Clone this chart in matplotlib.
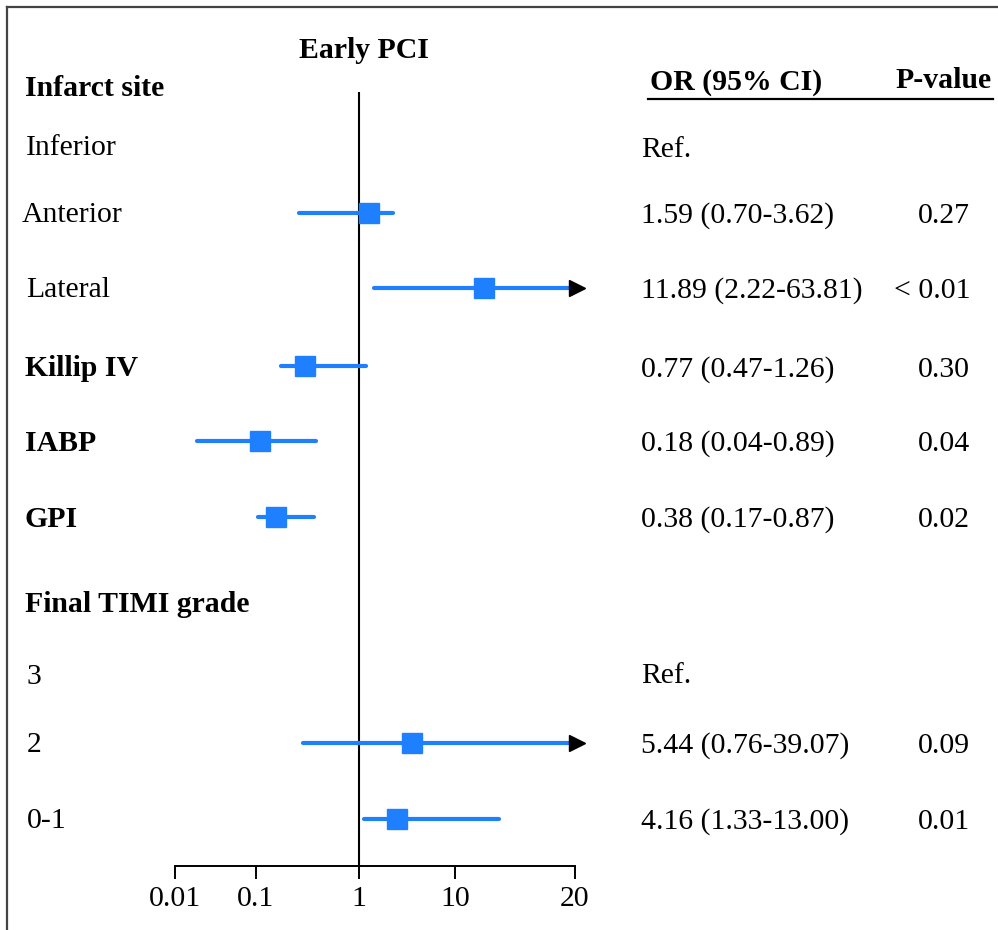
import numpy as np
import matplotlib
matplotlib.use("Agg")
import matplotlib.pyplot as plt
from matplotlib.lines import Line2D
from matplotlib.transforms import ScaledTranslation

# ---------------- data ----------------
row_labels = ["Infarct site", "Inferior", "Anterior", "Lateral", "Killip IV", "IABP", "GPI",
              "Final TIMI grade", "3", "2", "0-1"]
row_bold = [True, False, False, False, True, True, True, True, False, False, False]
or_text = ["", "Ref.", "1.59 (0.70-3.62)", "11.89 (2.22-63.81)", "0.77 (0.47-1.26)",
           "0.18 (0.04-0.89)", "0.38 (0.17-0.87)", "", "Ref.", "5.44 (0.76-39.07)",
           "4.16 (1.33-13.00)"]
p_text = ["", "", "0.27", "< 0.01", "0.30", "0.04", "0.02", "", "", "0.09", "0.01"]

# plotted estimates as drawn in the figure (None = no marker)
plot_or = [None, None, 1.27, 11.8, 0.30, 0.109, 0.156, None, None, 3.56, 2.49]
plot_lo = [None, None, 0.261, 1.43, 0.175, 0.0187, 0.1046, None, None, 0.286, 1.13]
plot_hi = [None, None, 2.26, 63.81, 1.18, 0.383, 0.366, None, None, 39.07, 12.9]

tick_values = [0.01, 0.1, 1, 10, 20]
tick_labels = ["0.01", "0.1", "1", "10", "20"]

# ---------------- layout ----------------
W, H = 998, 930
tick_px = np.array([175, 256, 359, 455, 575], dtype=float)   # pixel position of each tick
row_y = [87, 146, 213, 288, 366, 441, 517, 603, 675, 743, 819]  # pixel row centres
label_x = [25, 26, 22, 26, 25, 25, 25, 25, 27, 27, 27]
BLUE = "#1E80FF"
FS = 21.4
SERIF = ["Liberation Serif", "DejaVu Serif"]
TDY = 2  # text vertical nudge (px)

log_t = np.log10(np.array(tick_values, dtype=float))


def forward(x):
    lx = np.log10(np.clip(np.asarray(x, dtype=float), 1e-12, None))
    out = np.interp(lx, log_t, tick_px)
    lo = lx < log_t[0]
    hi = lx > log_t[-1]
    s0 = (tick_px[1] - tick_px[0]) / (log_t[1] - log_t[0])
    s1 = (tick_px[-1] - tick_px[-2]) / (log_t[-1] - log_t[-2])
    out = np.where(lo, tick_px[0] + (lx - log_t[0]) * s0, out)
    out = np.where(hi, tick_px[-1] + (lx - log_t[-1]) * s1, out)
    return out


def inverse(p):
    p = np.asarray(p, dtype=float)
    out = np.interp(p, tick_px, log_t)
    s0 = (tick_px[1] - tick_px[0]) / (log_t[1] - log_t[0])
    s1 = (tick_px[-1] - tick_px[-2]) / (log_t[-1] - log_t[-2])
    out = np.where(p < tick_px[0], log_t[0] + (p - tick_px[0]) / s0, out)
    out = np.where(p > tick_px[-1], log_t[-1] + (p - tick_px[-1]) / s1, out)
    return 10 ** out


fig = plt.figure(figsize=(W / 100, H / 100), dpi=100)
fig.patch.set_facecolor("white")
ax = fig.add_axes([tick_px[0] / W, 0, (tick_px[-1] - tick_px[0]) / W, 1])
ax.set_xscale("function", functions=(forward, inverse))
ax.set_xlim(tick_values[0], tick_values[-1])
ax.set_ylim(H, 0)
ax.patch.set_alpha(0)
for s in ["top", "right", "left"]:
    ax.spines[s].set_visible(False)
ax.spines["bottom"].set_position(("data", 866))
ax.spines["bottom"].set_linewidth(1.4)
ax.set_yticks([])
ax.set_xticks(tick_values)
ax.set_xticklabels(tick_labels)
ax.xaxis.set_minor_locator(matplotlib.ticker.NullLocator())
ax.tick_params(axis="x", direction="out", length=9.5, width=1.4, pad=5, labelsize=FS)
for t in ax.get_xticklabels():
    t.set_fontfamily(SERIF)

# reference line
ax.vlines(1, 92, 866, color="black", lw=1.5, zorder=2)

arrow_off = ScaledTranslation(2 / 100, 0, fig.dpi_scale_trans)
for i in range(len(row_labels)):
    if plot_or[i] is None:
        continue
    y = row_y[i]
    hi = min(plot_hi[i], tick_values[-1])
    ax.plot([plot_lo[i], hi], [y, y], color=BLUE, lw=3, solid_capstyle="round",
            zorder=3, clip_on=False)
    ax.plot([plot_or[i]], [y], marker="s", ms=14, color=BLUE, zorder=4, clip_on=False)
    if plot_hi[i] > tick_values[-1]:
        ax.plot([tick_values[-1]], [y], marker=">", ms=12, color="black", zorder=5,
                clip_on=False, transform=ax.transData + arrow_off)


def ftext(x, y, s, **kw):
    fig.text(x / W, 1 - (y + TDY) / H, s, fontsize=FS, family=SERIF, va="center", **kw)


# row labels
for i, lab in enumerate(row_labels):
    ftext(label_x[i], row_y[i], lab, ha="left", weight="bold" if row_bold[i] else "normal")

# OR and p-value columns
or_dy = [0, 2, 1, 1, 2, 1, 1, 0, -1, 1, 1]
for i in range(len(row_labels)):
    if or_text[i]:
        ftext(641, row_y[i] + or_dy[i], or_text[i], ha="left")
    if p_text[i]:
        ftext(970, row_y[i] + or_dy[i], p_text[i], ha="right")

# headers
ftext(364, 48, "Early PCI", ha="center", weight="bold")
ftext(650, 80, "OR (95% CI)", ha="left", weight="bold")
ftext(992, 78, "P-value", ha="right", weight="bold")
fig.add_artist(Line2D([648 / W, 993 / W], [1 - 99 / H, 1 - 99 / H], color="black", lw=1.6))

# frame (top and left edges)
fig.add_artist(Line2D([7 / W, 1], [1 - 7 / H, 1 - 7 / H], color="#444444", lw=1.6))
fig.add_artist(Line2D([7 / W, 7 / W], [0, 1 - 7 / H], color="#444444", lw=1.6))

fig.savefig("out.png", dpi=100, facecolor="white")
